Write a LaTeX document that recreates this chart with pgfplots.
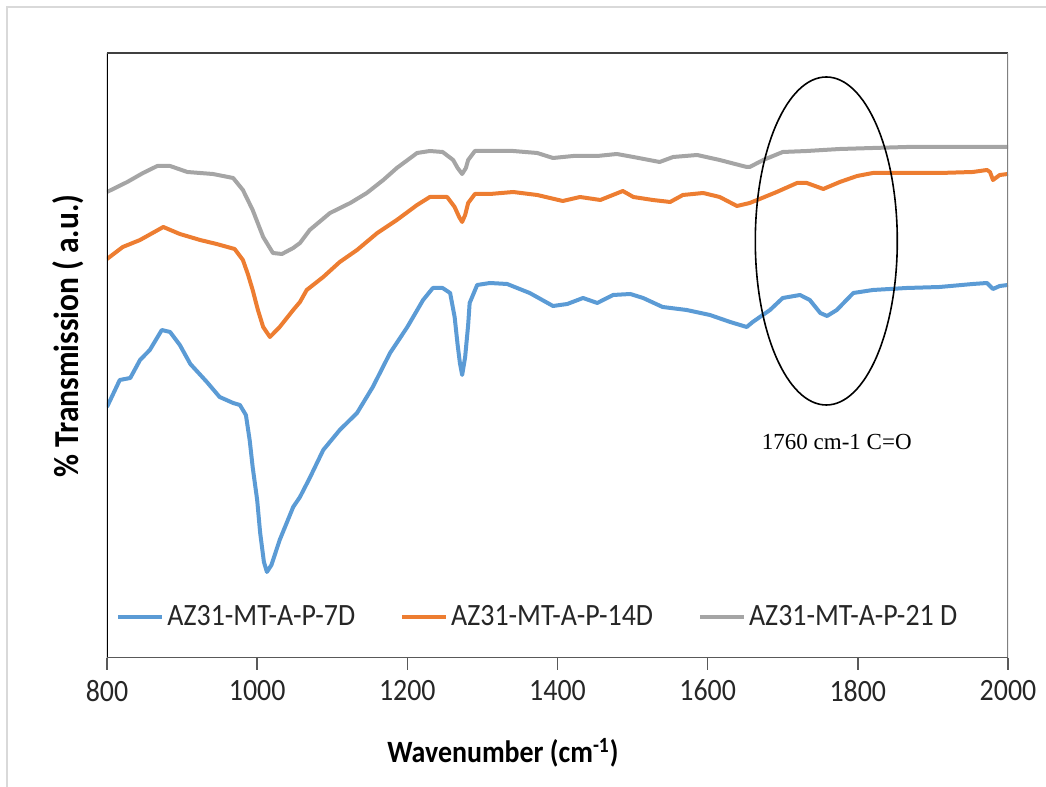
\documentclass[border=0pt]{standalone}
\usepackage{fontspec}
\setmainfont{Carlito}[FakeStretch=0.9]
\newfontfamily\timesfont{Liberation Serif}
\usepackage{pgfplots}
\pgfplotsset{compat=1.18}
\definecolor{sblue}{HTML}{5B9BD5}
\definecolor{sorange}{HTML}{ED7D31}
\definecolor{sgray}{HTML}{A5A5A5}
\begin{document}
\begin{tikzpicture}[x=1pt,y=1pt]
\path[use as bounding box] (0,0) rectangle (523,393.5);
\draw[color=black!15, line width=1pt] (3.5,-5) -- (3.5,390) -- (530,390);
\begin{axis}[at={(53.5pt,64.5pt)}, anchor=south west, scale only axis,
  width=450.5pt, height=302.5pt,
  xmin=800, xmax=2000, ymin=0, ymax=605,
  xtick={800,1000,...,2000}, ytick=\empty,
  axis line style={draw=none},
  tick align=outside, major tick length=6pt, xtick pos=bottom,
  xtick style={black!65, line width=0.8pt},
  /pgf/number format/assume math mode=true,
  /pgf/number format/set thousands separator={},
  xticklabel style={font=\fontsize{15.5}{17}\selectfont, text=black!85, yshift=-1.5pt},
  legend columns=3,
  legend style={at={(rel axis cs:0.01,0.068)}, anchor=west, draw=none, fill=none,
    inner sep=0pt, font=\fontsize{15.5}{17}\selectfont, text=black!85,
    /tikz/every even column/.append style={column sep=21pt},
    nodes={inner xsep=1.5pt}},
  legend image code/.code={\draw[#1, line width=2pt] (0pt,0pt) -- (22pt,0pt);},
  every axis plot/.append style={line width=2pt, line join=round},
]
\addplot[sblue] coordinates {
(800,251)(817,278)(831,280)(844,298)(857,308)(873,328)(884,326)(897,313)(911,294)
(933,276)(950,261)(968,255)(977,253)(985,243)(990,218)(994,191)(1000,158)(1004,125)
(1009,96)(1013,86)(1019,93)(1030,118)(1048,151)(1057,161)(1070,180)(1088,208)
(1110,228)(1133,245)(1154,271)(1177,305)(1200,331)(1221,358)(1234,370)(1247,370)
(1257,365)(1263,341)(1267,313)(1270,295)(1273,283)(1277,301)(1281,333)(1283,355)
(1293,373)(1310,375)(1333,374)(1363,365)(1394,352)(1413,354)(1434,360)(1453,355)
(1474,363)(1497,364)(1514,360)(1540,351)(1572,348)(1603,343)(1630,336)(1652,331)
(1660,336)(1683,348)(1700,360)(1723,363)(1736,358)(1750,345)(1759,342)(1772,348)
(1794,365)(1820,368)(1865,370)(1909,371)(1953,374)(1972,375)(1980,369)(1989,372)(2000,373)
};
\addlegendentry{AZ31-MT-A-P-7D}
\addplot[sorange] coordinates {
(800,399)(821,411)(844,418)(875,431)(897,424)(924,418)(946,414)(970,409)(981,398)
(988,383)(994,368)(1001,348)(1008,331)(1017,321)(1030,331)(1048,348)(1057,356)
(1066,368)(1088,381)(1110,396)(1133,408)(1160,425)(1186,438)(1213,453)(1230,461)
(1253,461)(1263,451)(1269,441)(1273,436)(1277,443)(1281,455)(1290,464)(1310,464)
(1341,466)(1373,463)(1407,457)(1430,461)(1457,458)(1487,467)(1501,461)(1527,458)
(1550,456)(1567,463)(1594,465)(1616,461)(1639,452)(1656,455)(1666,458)(1692,466)
(1719,475)(1732,475)(1754,469)(1776,476)(1799,482)(1820,485)(1865,485)(1909,485)
(1953,486)(1972,488)(1976,486)(1980,478)(1989,483)(2000,484)
};
\addlegendentry{AZ31-MT-A-P-14D}
\addplot[sgray] coordinates {
(800,466)(827,476)(848,485)(867,492)(884,492)(907,486)(924,485)(941,484)(968,480)
(981,468)(994,448)(1008,421)(1021,405)(1033,404)(1048,410)(1057,415)(1070,428)
(1097,445)(1124,455)(1146,465)(1168,478)(1186,490)(1213,505)(1230,507)(1247,506)
(1261,498)(1267,490)(1273,484)(1278,490)(1281,498)(1290,507)(1310,507)(1341,507)
(1373,505)(1394,500)(1421,502)(1453,502)(1479,504)(1501,501)(1536,496)(1554,501)
(1586,503)(1616,498)(1652,491)(1656,491)(1674,498)(1700,506)(1732,507)(1776,509)
(1820,510)(1865,511)(1909,511)(1953,511)(2000,511)
};
\addlegendentry{AZ31-MT-A-P-21 D}
\draw[black, line width=0.8pt] (axis cs:1758,417) ellipse [x radius=35.5pt, y radius=82pt];
\node[font=\timesfont\fontsize{11.5}{13}\selectfont] at (axis cs:1772,216) {1760 cm-1 C=O};
\draw[black, line width=0.7pt] (rel axis cs:0,0) -- (rel axis cs:0,1);
\draw[black!75, line width=0.7pt] (rel axis cs:0,1) -- (rel axis cs:1,1);
\draw[black!50, line width=0.7pt] (rel axis cs:1,1) -- (rel axis cs:1,0);
\draw[black!65, line width=1pt] (rel axis cs:0,0) -- (rel axis cs:1,0);
\end{axis}
\node[rotate=90, font=\bfseries\fontsize{17.5}{19}\selectfont] at (34,225.5) {\% Transmission ( a.u.)};
\node[font=\bfseries\fontsize{15.5}{17}\selectfont] at (251.5,17) {Wavenumber (cm\textsuperscript{-1})};
\end{tikzpicture}
\end{document}
